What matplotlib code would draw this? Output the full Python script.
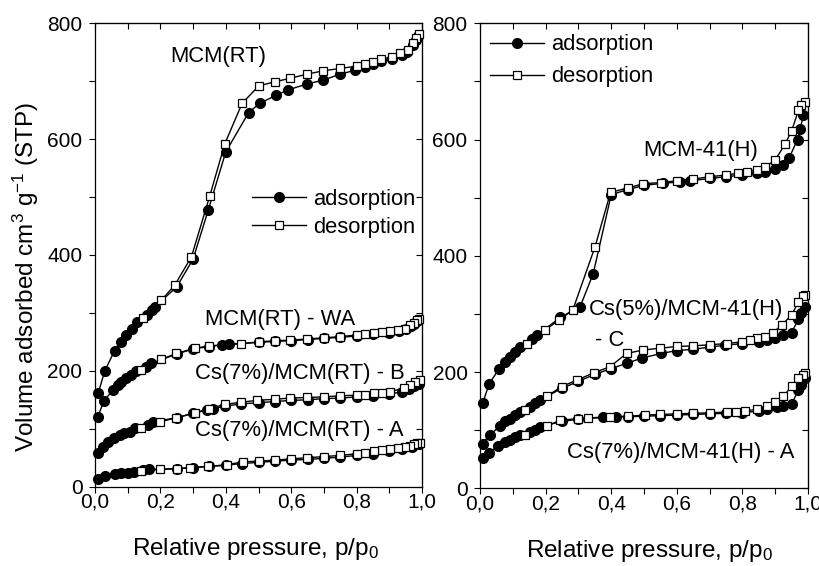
#importing necessary packages
import matplotlib
matplotlib.use('Agg')
import matplotlib.pyplot as plt
from matplotlib.ticker import MultipleLocator, FuncFormatter

# Arial-like font, superscripts/subscripts in the same font
plt.rcParams['font.family'] = ['Liberation Sans', 'DejaVu Sans']
plt.rcParams['mathtext.default'] = 'regular'

# ---------------- left panel: MCM(RT) samples ----------------
# MCM(RT)
mcm_rt_ads_x = [0.01, 0.03, 0.06, 0.08, 0.095, 0.112, 0.128, 0.158, 0.174, 0.184, 0.25, 0.30, 0.346, 0.40,
                0.47, 0.504, 0.555, 0.59, 0.647, 0.698, 0.749, 0.795, 0.826, 0.851, 0.876, 0.907, 0.938,
                0.953, 0.973, 0.983, 0.989]
mcm_rt_ads_y = [162, 200, 235, 250, 262, 273, 285, 296, 305, 311, 345, 393, 477, 578,
                646, 662, 676, 685, 695, 702, 712, 719, 725, 729, 735, 739, 745,
                751, 762, 771, 778]
mcm_rt_des_x = [0.99, 0.983, 0.973, 0.958, 0.933, 0.907, 0.876, 0.851, 0.826, 0.80, 0.749, 0.698, 0.647,
                0.596, 0.55, 0.501, 0.45, 0.397, 0.351, 0.295, 0.244, 0.203, 0.147]
mcm_rt_des_y = [781, 774, 766, 754, 748, 742, 738, 734, 729, 726, 722, 718, 712,
                705, 699, 692, 662, 592, 502, 397, 348, 322, 291]

# MCM(RT) - WA
wa_ads_x = [0.009, 0.027, 0.055, 0.07, 0.08, 0.096, 0.111, 0.126, 0.157, 0.172, 0.25, 0.30, 0.35, 0.387,
            0.41, 0.5, 0.55, 0.6, 0.65, 0.70, 0.75, 0.80, 0.85, 0.90, 0.93, 0.95, 0.965, 0.975, 0.985]
wa_ads_y = [121, 148, 167, 175, 181, 187, 193, 199, 207, 213, 229, 238, 242, 245,
            246, 249, 251, 252, 254, 256, 258, 260, 263, 266, 269, 272, 277, 281, 286]
wa_des_x = [0.99, 0.985, 0.975, 0.964, 0.949, 0.928, 0.903, 0.877, 0.852, 0.826, 0.801, 0.75, 0.699,
            0.648, 0.597, 0.551, 0.5, 0.448, 0.35, 0.305, 0.249, 0.203, 0.142]
wa_des_y = [290, 288, 283, 279, 273, 271, 269, 267, 265, 263, 262, 259, 257,
            255, 253, 252, 250, 247, 243, 239, 230, 220, 201]

# Cs(7%)/MCM(RT) - B
rt_b_ads_x = [0.009, 0.024, 0.04, 0.058, 0.075, 0.09, 0.106, 0.121, 0.162, 0.178, 0.25, 0.30, 0.341,
              0.361, 0.397, 0.448, 0.5, 0.55, 0.6, 0.65, 0.7, 0.75, 0.8, 0.85, 0.9, 0.94, 0.96, 0.975, 0.99]
rt_b_ads_y = [58, 69, 78, 84, 89, 92, 95, 101, 107, 112, 119, 127, 132,
              135, 139, 143, 145, 147, 149, 150, 152, 153, 155, 157, 160, 164, 168, 173, 178]
rt_b_des_x = [0.995, 0.98, 0.964, 0.944, 0.903, 0.877, 0.852, 0.826, 0.801, 0.75, 0.699, 0.648, 0.597,
              0.551, 0.495, 0.448, 0.397, 0.35, 0.305, 0.249, 0.198, 0.142]
rt_b_des_y = [185, 181, 176, 170, 164, 162, 161, 159, 158, 157, 155, 154, 153,
              151, 149, 146, 142, 135, 127, 119, 112, 101]

# Cs(7%)/MCM(RT) - A
rt_a_ads_x = [0.009, 0.03, 0.06, 0.08, 0.10, 0.12, 0.148, 0.165, 0.25, 0.30, 0.35, 0.40, 0.45, 0.5,
              0.55, 0.6, 0.65, 0.7, 0.75, 0.8, 0.85, 0.9, 0.94, 0.97, 0.99]
rt_a_ads_y = [14, 19, 22, 23, 24, 26, 29, 30, 31, 33, 35, 37, 40, 42,
              44, 46, 47, 49, 51, 54, 57, 61, 65, 69, 73]
rt_a_des_x = [0.995, 0.985, 0.975, 0.964, 0.949, 0.928, 0.903, 0.877, 0.852, 0.826, 0.801, 0.75, 0.7,
              0.648, 0.6, 0.551, 0.5, 0.454, 0.403, 0.347, 0.289, 0.25, 0.2, 0.142]
rt_a_des_y = [76, 75, 73, 71, 69, 67, 65, 63, 61, 59, 57, 54, 52,
              50, 48, 46, 44, 43, 38, 35, 33, 31, 30, 27]

# ---------------- right panel: MCM-41(H) samples ----------------
# MCM-41(H)
h_ads_x = [0.008, 0.028, 0.059, 0.076, 0.091, 0.107, 0.122, 0.158, 0.175, 0.245, 0.305, 0.345, 0.40,
           0.45, 0.50, 0.559, 0.61, 0.64, 0.70, 0.75, 0.798, 0.844, 0.869, 0.899, 0.923, 0.943,
           0.968, 0.976, 0.986]
h_ads_y = [146, 180, 206, 218, 226, 235, 243, 257, 264, 294, 312, 369, 505,
           514, 521, 525, 527, 529, 533, 536, 539, 542, 545, 550, 556, 569,
           600, 618, 642]
h_des_x = [0.991, 0.98, 0.971, 0.95, 0.93, 0.899, 0.869, 0.844, 0.813, 0.788, 0.75, 0.699, 0.65,
           0.6, 0.551, 0.498, 0.452, 0.398, 0.351, 0.283, 0.242, 0.198, 0.142]
h_des_y = [665, 660, 650, 615, 592, 564, 553, 548, 545, 542, 539, 536, 532,
           529, 526, 524, 517, 509, 416, 307, 290, 272, 249]

# Cs(5%)/MCM-41(H) - C
h_c_ads_x = [0.008, 0.03, 0.061, 0.076, 0.091, 0.107, 0.122, 0.152, 0.168, 0.183, 0.25, 0.30, 0.35,
             0.40, 0.447, 0.493, 0.553, 0.6, 0.649, 0.701, 0.747, 0.80, 0.85, 0.874, 0.9, 0.925,
             0.95, 0.971, 0.98, 0.99]
h_c_ads_y = [77, 92, 107, 115, 120, 126, 132, 140, 146, 152, 172, 184, 196,
             206, 215, 224, 232, 237, 239, 243, 246, 249, 252, 255, 258, 264,
             268, 291, 301, 312]
h_c_des_x = [0.99, 0.986, 0.971, 0.95, 0.92, 0.894, 0.869, 0.843, 0.823, 0.798, 0.752, 0.701, 0.65,
             0.6, 0.549, 0.498, 0.447, 0.396, 0.348, 0.295, 0.249, 0.203, 0.137]
h_c_des_y = [333, 330, 321, 298, 281, 268, 261, 258, 255, 252, 249, 247, 245,
             244, 241, 238, 232, 209, 199, 186, 175, 158, 135]

# Cs(7%)/MCM-41(H) - A
h_a_ads_x = [0.008, 0.028, 0.056, 0.076, 0.091, 0.107, 0.122, 0.152, 0.168, 0.183, 0.25, 0.30, 0.376,
             0.416, 0.45, 0.5, 0.55, 0.6, 0.65, 0.7, 0.75, 0.8, 0.85, 0.874, 0.904, 0.925, 0.95,
             0.971, 0.98, 0.99]
h_a_ads_y = [52, 61, 73, 79, 83, 88, 92, 97, 101, 106, 115, 119, 122,
             123, 123, 124, 125, 126, 127, 128, 129, 130, 133, 136, 140, 142, 145,
             169, 178, 189]
h_a_des_x = [0.99, 0.986, 0.971, 0.95, 0.925, 0.899, 0.874, 0.844, 0.808, 0.782, 0.752, 0.701, 0.65,
             0.6, 0.549, 0.503, 0.452, 0.396, 0.33, 0.30, 0.244, 0.203, 0.137]
h_a_des_y = [198, 195, 189, 176, 158, 149, 142, 136, 133, 132, 131, 130, 129,
             128, 127, 126, 124, 123, 121, 120, 117, 107, 92]

FS_TICK = 15     # tick labels
FS_TEXT = 15.8   # sample names and legend
FS_LABEL = 17.5  # axis titles

# figure with two panels placed by hand
fig = plt.figure(figsize=(8.19, 5.66), dpi=100)
ax_l = fig.add_axes([95 / 819, 1 - 486.7 / 566, 327 / 819, 463.4 / 566])
ax_r = fig.add_axes([480 / 819, 1 - 488.3 / 566, 328 / 819, 465 / 566])


def comma_fmt(v, pos):
    return f'{v:.1f}'.replace('.', ',')


def style_axes(ax):
    ax.set_xlim(0, 1.0)
    ax.set_ylim(0, 800)
    ax.xaxis.set_major_locator(MultipleLocator(0.2))
    ax.xaxis.set_minor_locator(MultipleLocator(0.1))
    ax.yaxis.set_major_locator(MultipleLocator(200))
    ax.yaxis.set_minor_locator(MultipleLocator(100))
    ax.xaxis.set_major_formatter(FuncFormatter(comma_fmt))
    ax.tick_params(which='both', direction='out', length=4, width=0.8, labelsize=FS_TICK,
                   top=False, right=False)
    ax.tick_params(axis='x', pad=0.5)
    ax.tick_params(axis='y', pad=5)
    for sp in ax.spines.values():
        sp.set_linewidth(0.9)
    # mirrored ticks on top and right, pointing inwards
    top = ax.secondary_xaxis('top')
    top.xaxis.set_major_locator(MultipleLocator(0.2))
    top.xaxis.set_minor_locator(MultipleLocator(0.1))
    top.tick_params(which='both', direction='in', length=4, width=0.8, labeltop=False)
    right = ax.secondary_yaxis('right')
    right.yaxis.set_major_locator(MultipleLocator(200))
    right.yaxis.set_minor_locator(MultipleLocator(100))
    right.tick_params(which='both', direction='in', length=4, width=0.8, labelright=False)


def plot_pair(ax, xa, ya, xd, yd):
    # adsorption = filled circles, desorption = open squares on top
    ax.plot(xa, ya, '-o', color='black', lw=1, ms=7, mfc='black', mec='black',
            clip_on=False, label='adsorption', zorder=3)
    ax.plot(xd, yd, '-s', color='black', lw=1, ms=6, mfc='white', mec='black', mew=0.9,
            clip_on=False, label='desorption', zorder=4)


style_axes(ax_l)
style_axes(ax_r)

plot_pair(ax_l, mcm_rt_ads_x, mcm_rt_ads_y, mcm_rt_des_x, mcm_rt_des_y)
plot_pair(ax_l, wa_ads_x, wa_ads_y, wa_des_x, wa_des_y)
plot_pair(ax_l, rt_b_ads_x, rt_b_ads_y, rt_b_des_x, rt_b_des_y)
plot_pair(ax_l, rt_a_ads_x, rt_a_ads_y, rt_a_des_x, rt_a_des_y)

plot_pair(ax_r, h_ads_x, h_ads_y, h_des_x, h_des_y)
plot_pair(ax_r, h_c_ads_x, h_c_ads_y, h_c_des_x, h_c_des_y)
plot_pair(ax_r, h_a_ads_x, h_a_ads_y, h_a_des_x, h_a_des_y)

# sample names
ax_l.text(0.229, 742, 'MCM(RT)', fontsize=FS_TEXT, va='center')
ax_l.text(0.337, 289, 'MCM(RT) - WA', fontsize=FS_TEXT, va='center')
ax_l.text(0.306, 196, 'Cs(7%)/MCM(RT) - B', fontsize=FS_TEXT, va='center')
ax_l.text(0.306, 97, 'Cs(7%)/MCM(RT) - A', fontsize=FS_TEXT, va='center')

ax_r.text(0.498, 582, 'MCM-41(H)', fontsize=FS_TEXT, va='center')
ax_r.text(0.333, 307, 'Cs(5%)/MCM-41(H)', fontsize=FS_TEXT, va='center')
ax_r.text(0.352, 255, '- C', fontsize=FS_TEXT, va='center')
ax_r.text(0.264, 61, 'Cs(7%)/MCM-41(H) - A', fontsize=FS_TEXT, va='center')

# legends (only the first pair of lines in each panel)
h_l, lab_l = ax_l.get_legend_handles_labels()
ax_l.legend(h_l[:2], lab_l[:2], loc='center left', bbox_to_anchor=(0.48, 0.59), frameon=False,
            fontsize=FS_TEXT, numpoints=1, handlelength=2.45, handletextpad=0.35, labelspacing=0.3,
            borderpad=0, borderaxespad=0)
h_r, lab_r = ax_r.get_legend_handles_labels()
ax_r.legend(h_r[:2], lab_r[:2], loc='center left', bbox_to_anchor=(0.03, 0.919), frameon=False,
            fontsize=FS_TEXT, numpoints=1, handlelength=2.45, handletextpad=0.35, labelspacing=0.5,
            borderpad=0, borderaxespad=0)

# axis labels
ax_l.set_ylabel('Volume adsorbed cm$^3$ g$^{-1}$ (STP)', fontsize=FS_LABEL)
ax_l.yaxis.set_label_coords(-0.165, 0.4525)
ax_l.set_xlabel('Relative pressure, p/p$_0$', fontsize=FS_LABEL)
ax_l.xaxis.set_label_coords(0.49, -0.106)
ax_r.set_xlabel('Relative pressure, p/p$_0$', fontsize=FS_LABEL)
ax_r.xaxis.set_label_coords(0.518, -0.107)

fig.savefig('out.png', dpi=100)
